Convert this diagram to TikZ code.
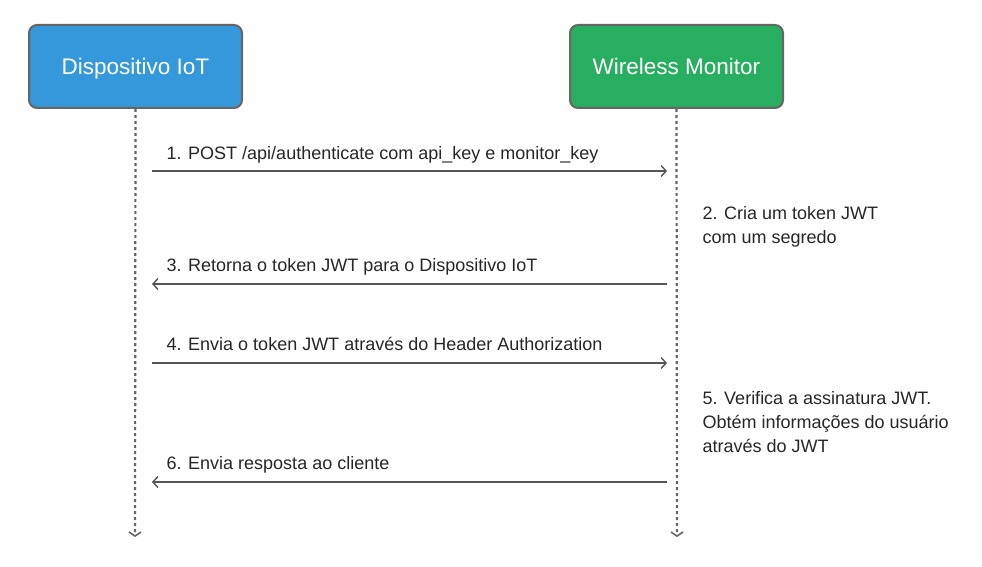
\documentclass[tikz,border=0pt]{standalone}
\usepackage{fontspec}
\setmainfont{Liberation Sans}
\usetikzlibrary{arrows.meta, positioning}
\definecolor{boxblue}{HTML}{3498DB}
\definecolor{boxgreen}{HTML}{27AE60}
\definecolor{linegray}{HTML}{666666}
\definecolor{msggray}{HTML}{555555}
\tikzset{>={Straight Barb[length=5pt,width=11pt]}}
\begin{document}
\begin{tikzpicture}[x=1pt, y=-1pt,
    actor/.style={draw=linegray, line width=2pt, rounded corners=8pt,
        minimum width=213pt, minimum height=83pt, text=white,
        text height=16pt, text depth=0pt,
        font=\fontsize{22.5}{27}\selectfont},
    lifeline/.style={draw=linegray, line width=2.2pt, dash pattern=on 3pt off 3pt,
        -{Straight Barb[length=4pt,width=12pt,line width=1.6pt]}},
    msg/.style={draw=msggray, line width=1.4pt, ->},
    lbl/.style={anchor=base west, text=black!85, font=\fontsize{18}{22}\selectfont},
    note/.style={anchor=base west, align=left, text=black!85,
        font=\fontsize{18}{24}\selectfont}]

    \useasboundingbox (0,0) rectangle (982,567);

    \node[actor, fill=boxblue] (dev) at (135.5,66.5) {Dispositivo IoT};
    \node[actor, fill=boxgreen] (mon) at (676.5,66.5) {Wireless Monitor};

    \coordinate (devend) at (135,537);
    \coordinate (monend) at (677,537);
    \draw[lifeline] (dev.south) -- (devend);
    \draw[lifeline] (mon.south) -- (monend);

    % mensagens
    \coordinate (a1) at (152,171);  \coordinate (b1) at (667,171);
    \coordinate (a3) at (152,284);  \coordinate (b3) at (667,284);
    \coordinate (a4) at (152,363);  \coordinate (b4) at (667,363);
    \coordinate (a6) at (152,482);  \coordinate (b6) at (667,482);

    \draw[msg] (a1) -- (b1);
    \draw[msg] (b3) -- (a3);
    \draw[msg] (a4) -- (b4);
    \draw[msg] (b6) -- (a6);

    \node[lbl] (m1) at (163,159) {1. POST /api/authenticate com api\_key e monitor\_key};
    \node[lbl] (m3) at (163,271) {3. Retorna o token JWT para o Dispositivo IoT};
    \node[lbl] (m4) at (163,350) {4. Envia o token JWT através do Header Authorization};
    \node[lbl] (m6) at (163,469) {6. Envia resposta ao cliente};

    % notas (base = ultima linha)
    \node[note] (n2) at (699,243) {2. Cria um token JWT\\com um segredo};
    \node[note] (n5) at (699,452) {5. Verifica a assinatura JWT.\\Obtém informações do usuário\\através do JWT};
\end{tikzpicture}
\end{document}
